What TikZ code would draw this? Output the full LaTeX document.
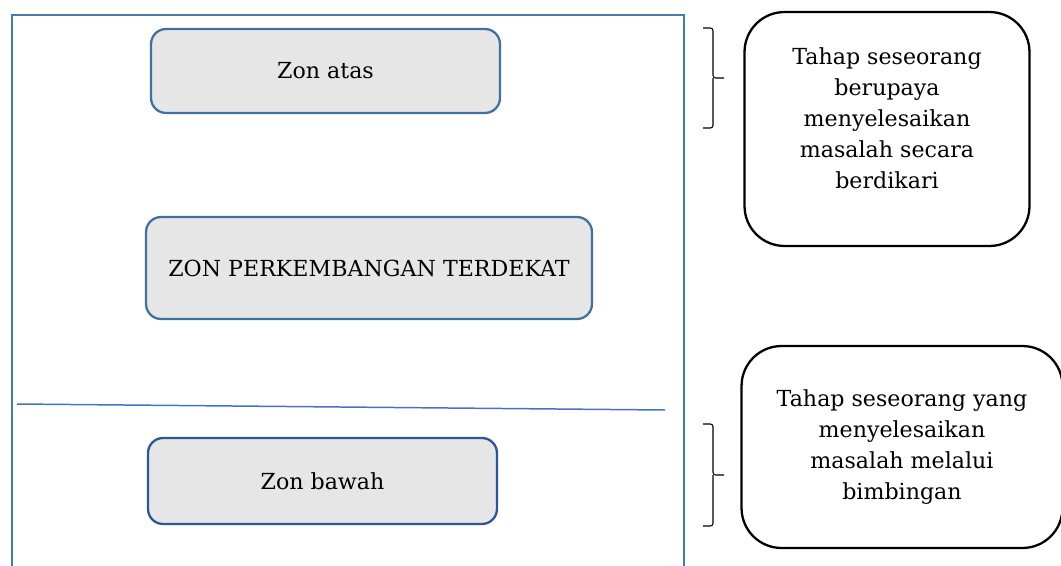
\documentclass[tikz,border=0pt]{standalone}
\usepackage{fontspec}
\setmainfont{DejaVu Serif}
\usetikzlibrary{positioning,calc}

\definecolor{framecol}{RGB}{74,122,168}
\definecolor{zoncol}{RGB}{65,113,156}
\definecolor{bawahcol}{RGB}{47,85,151}
\definecolor{linecol}{RGB}{68,114,196}
\definecolor{zonfill}{RGB}{230,230,230}

\begin{document}
\begin{tikzpicture}[x=0.02cm, y=-0.02cm, font=\fontsize{12.6}{17.6}\selectfont,
  zonbox/.style={draw=zoncol, line width=1.3pt, fill=zonfill, rounded corners=0.3cm},
  notebox/.style={draw=black, line width=1.3pt, rounded corners=0.8cm},
  brace/.style={draw=black, line width=0.6pt, rounded corners=1.5pt}]

  \clip (0,0) rectangle (1061,565); % page size of the reference

  % outer frame, its bottom runs off the page
  \draw[framecol, line width=1.5pt] (12,575) -- (12,15) -- (684,15) -- (684,575);

  % zones on the left
  \node (atas) [zonbox, minimum width=6.98cm, minimum height=1.68cm] at (325.5,71) {Zon atas};
  \node (zpd) [zonbox, minimum width=8.92cm, minimum height=2.04cm] at (369,268) {ZON PERKEMBANGAN TERDEKAT};
  \node (bawah) [zonbox, draw=bawahcol, minimum width=6.98cm, minimum height=1.72cm] at (322.5,481) {Zon bawah};

  % divider between zones
  \coordinate (divL) at (17,404);
  \coordinate (divR) at (665,410);
  \draw[linecol, line width=0.85pt] (divL) -- (divR);

  % notes on the right
  \node (noteA) [notebox, minimum width=5.7cm, minimum height=4.68cm] at (887,129) {};
  \node (noteAtext) [align=center] at (887,118.5) {Tahap seseorang\\berupaya\\menyelesaikan\\masalah secara\\berdikari};
  \node (noteB) [notebox, minimum width=6.42cm, minimum height=4.04cm, align=center] at (902,447)
    {Tahap seseorang yang\\menyelesaikan\\masalah melalui\\bimbingan};

  % braces
  \coordinate (braceA) at (713,78);
  \coordinate (braceB) at (713,475);
  \draw[brace] ($(braceA)+(-10,-50)$) -| (braceA) -- ++(11,0);
  \draw[brace] (braceA) |- ++(-10,50);
  \draw[brace] ($(braceB)+(-10,-51)$) -| (braceB) -- ++(11,0);
  \draw[brace] (braceB) |- ++(-10,51);

\end{tikzpicture}
\end{document}
